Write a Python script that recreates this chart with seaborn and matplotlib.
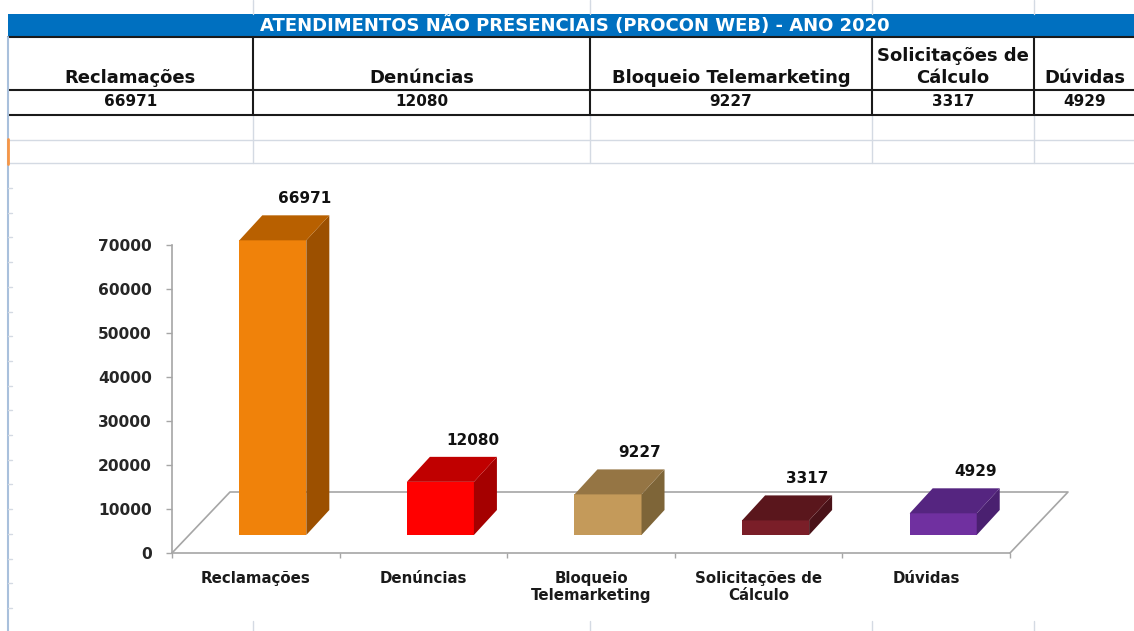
import matplotlib
matplotlib.use("Agg")
import matplotlib.pyplot as plt
from matplotlib.patches import Polygon, Rectangle
from matplotlib.lines import Line2D
from matplotlib.transforms import ScaledTranslation
import seaborn as sns
import pandas as pd

# dados
titulo = "ATENDIMENTOS NÃO PRESENCIAIS (PROCON WEB) - ANO 2020"
categorias = ["Reclamações", "Denúncias", "Bloqueio Telemarketing",
              "Solicitações de Cálculo", "Dúvidas"]
rotulos_eixo = ["Reclamações", "Denúncias", "Bloqueio\nTelemarketing",
                "Solicitações de\nCálculo", "Dúvidas"]
cabecalhos = ["Reclamações", "Denúncias", "Bloqueio Telemarketing",
              "Solicitações de\nCálculo", "Dúvidas"]
valores = [66971, 12080, 9227, 3317, 4929]
y_ticks = [0, 10000, 20000, 30000, 40000, 50000, 60000, 70000]

cor_frente = ["#F0820A", "#FF0000", "#C49A5A", "#7A1E28", "#7030A0"]
cor_lado = ["#9C5000", "#A50000", "#7E6538", "#4A1218", "#4A2070"]
cor_topo = ["#B86000", "#C00000", "#957544", "#5A161C", "#552580"]

W, H = 1134, 631


def fx(x):
    return x / W


def fy(y):
    return 1 - y / H


sns.set_theme(style="white")
plt.rcParams["font.family"] = ["DejaVu Sans"]

fig = plt.figure(figsize=(W / 100, H / 100), dpi=100, facecolor="white")

# ---- tabela (planilha) ----
def linha(x1, y1, x2, y2, cor, lw):
    fig.add_artist(Line2D([fx(x1), fx(x2)], [fy(y1), fy(y2)],
                          transform=fig.transFigure, color=cor, lw=lw))

fig.add_artist(Rectangle((fx(8), fy(37)), fx(W) - fx(8), fy(14) - fy(37),
                         transform=fig.transFigure, color="#0070C0", lw=0))
fig.text(fx(575), fy(25.5), titulo, color="white", fontsize=13,
         fontweight="bold", ha="center", va="center")

colunas = [8, 253, 590, 872, 1034, 1134]
grade = "#D4DAE3"
for x in colunas[1:-1]:
    linha(x, 0, x, 14, grade, 1)
    linha(x, 115, x, 163, grade, 1)
    linha(x, 621, x, 631, grade, 1)
    linha(x, 37, x, 115, "#1A1A1A", 1.5)
for y in [140, 163]:
    linha(8, y, W, y, grade, 1)
for y in [37, 90, 115]:
    linha(8, y, W, y, "#1A1A1A", 1.5)
linha(8, 37, 8, H, "#A9C0DC", 1.5)
linha(8, 139, 8, 164, "#F79646", 2)
for k in range(18):
    yy = 188 + 24.7 * k
    linha(8, yy, 12, yy, grade, 1)

for i, (cab, v) in enumerate(zip(cabecalhos, valores)):
    xc = (colunas[i] + colunas[i + 1]) / 2
    if i == 4:
        xc = 1085
    fig.text(fx(xc), fy(87), cab, ha="center", va="bottom", fontsize=13,
             fontweight="bold", color="#111111", linespacing=1.3)
    fig.text(fx(xc), fy(102), str(v), ha="center", va="center",
             fontsize=11, fontweight="bold", color="#111111")

# ---- gráfico ----
ax = fig.add_axes([fx(172), fy(553), fx(1010) - fx(172), fy(245) - fy(553)])
df = pd.DataFrame({"categoria": categorias, "valor": valores})
sns.barplot(data=df, x="categoria", y="valor", hue="categoria",
            palette=cor_frente, saturation=1, width=0.4, legend=False,
            ax=ax, zorder=3)
ax.set_xlim(-0.5, 4.5)
ax.set_ylim(0, 70000)

sx = (1010 - 172) / 5
sy = (553 - 245) / 70000
frente = ax.transData + ScaledTranslation(17 / 100, 18 / 100, fig.dpi_scale_trans)
ddx, ddy = 23 / sx, 25 / sy

# piso 3D
px, py = 58 / sx, 61 / sy
ax.plot([-0.5, -0.5 + px, 4.5 + px, 4.5], [0, py, py, 0],
        color="#A6A6A6", lw=1.2, clip_on=False, zorder=1)

for i, bar in enumerate(ax.patches):
    bar.set_transform(frente)
    bar.set_clip_on(False)
    bar.set_linewidth(0)
    x0, w, h = bar.get_x(), bar.get_width(), bar.get_height()
    lado = Polygon([(x0 + w, 0), (x0 + w, h), (x0 + w + ddx, h + ddy),
                    (x0 + w + ddx, ddy)], closed=True, transform=frente,
                   facecolor=cor_lado[i], lw=0, clip_on=False, zorder=3)
    topo = Polygon([(x0, h), (x0 + w, h), (x0 + w + ddx, h + ddy),
                    (x0 + ddx, h + ddy)], closed=True, transform=frente,
                   facecolor=cor_topo[i], lw=0, clip_on=False, zorder=3)
    ax.add_patch(lado)
    ax.add_patch(topo)
    ax.annotate(str(valores[i]), xy=(x0 + w / 2, h), xycoords=frente,
                xytext=(32 * 0.72, 34 * 0.72), textcoords="offset points",
                ha="center", va="bottom", fontsize=11, fontweight="bold",
                color="#111111", annotation_clip=False)

ax.set_yticks(y_ticks)
ax.set_yticklabels([str(t) for t in y_ticks])
ax.set_xticks(range(5))
ax.set_xticklabels(rotulos_eixo)
ax.set_xticks([i - 0.5 for i in range(6)], minor=True)
ax.set_xlabel("")
ax.set_ylabel("")
for s in ["top", "right"]:
    ax.spines[s].set_visible(False)
for s in ["left", "bottom"]:
    ax.spines[s].set_color("#A6A6A6")
    ax.spines[s].set_linewidth(1.2)
ax.tick_params(axis="y", which="major", left=True, length=4.5, width=1,
               color="#A6A6A6", pad=10, labelsize=11.2, labelcolor="#262626")
ax.tick_params(axis="x", which="major", length=0, pad=13, labelsize=10.8,
               labelcolor="#1A1A1A")
ax.tick_params(axis="x", which="minor", bottom=True, length=3.6, width=1,
               color="#A6A6A6")
for lab in ax.get_yticklabels() + ax.get_xticklabels():
    lab.set_fontweight("bold")
ax.set_facecolor("none")

fig.savefig("out.png", dpi=100, facecolor="white")
